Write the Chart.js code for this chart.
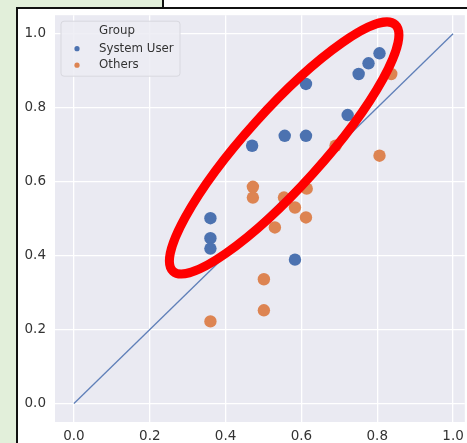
<!DOCTYPE html>
<html>
<head>
<meta charset="utf-8">
<script src="https://cdn.jsdelivr.net/npm/chart.js@4.4.1/dist/chart.umd.min.js"></script>
<style>
    html, body {
        margin: 0;
        padding: 0;
        width: 467px;
        height: 443px;
        overflow: hidden;
        background: #e2efda;
        font-family: "DejaVu Sans", sans-serif;
    }
    #topright {
        position: absolute;
        left: 162px;
        top: 0;
        width: 305px;
        height: 7px;
        background: #fff;
        border-left: 2px solid #111;
        box-sizing: border-box;
    }
    #frame {
        position: absolute;
        left: 16px;
        top: 7px;
        width: 451px;
        height: 436px;
        background: #fff;
        border-left: 2px solid #111;
        border-top: 2px solid #111;
        box-sizing: border-box;
        overflow: hidden;
    }
    #chart {
        position: absolute;
        left: 0;
        top: 0;
    }
</style>
</head>
<body>
<div id="topright"></div>
<div id="frame">
    <canvas id="chart" width="453" height="434"></canvas>
</div>
<script>
// data
const groups = ["System User", "Others"];
const groupTitle = "Group";

const userX = [0.806, 0.777, 0.751, 0.612, 0.470, 0.556, 0.612, 0.722, 0.360, 0.360, 0.360, 0.583];
const userY = [0.947, 0.920, 0.891, 0.864, 0.697, 0.724, 0.724, 0.780, 0.501, 0.447, 0.419, 0.389];

const otherX = [0.837, 0.806, 0.690, 0.472, 0.472, 0.554, 0.614, 0.583, 0.612, 0.530, 0.501, 0.501, 0.360];
const otherY = [0.891, 0.670, 0.697, 0.586, 0.557, 0.557, 0.581, 0.530, 0.503, 0.476, 0.336, 0.252, 0.222];

const diagX = [0, 1];
const diagY = [0, 1];

const tickValues = [0, 0.2, 0.4, 0.6, 0.8, 1.0];

const colors = ["#4c72b0", "#dd8452"];

function toPoints(xs, ys) {
    return xs.map((x, i) => ({ x: x, y: ys[i] }));
}

// no extra room for the end labels, the plot is cropped anyway
function fixAxis(size) {
    return s => {
        if (s.isHorizontal()) s.height = size; else s.width = size;
        s.paddingTop = 0;
        s.paddingBottom = 0;
        s.paddingLeft = 0;
        s.paddingRight = 0;
    };
}

// gray axes background like seaborn darkgrid
const plotBackground = {
    id: "plotBackground",
    beforeDraw(chart) {
        const { ctx, chartArea } = chart;
        ctx.save();
        ctx.fillStyle = "#eaeaf2";
        ctx.fillRect(chartArea.left, chartArea.top, chartArea.right - chartArea.left, chartArea.bottom - chartArea.top);
        ctx.restore();
    }
};

// legend box with title, drawn in the upper left corner
const groupLegend = {
    id: "groupLegend",
    afterDatasetsDraw(chart) {
        const { ctx, chartArea } = chart;
        const left = chartArea.left + 6;
        const top = chartArea.top + 6;
        const w = 119, h = 55;
        ctx.save();
        ctx.beginPath();
        ctx.roundRect(left, top, w, h, 3);
        ctx.fillStyle = "rgba(236,236,243,0.85)";
        ctx.fill();
        ctx.strokeStyle = "#d8d8df";
        ctx.lineWidth = 1;
        ctx.stroke();

        ctx.font = "11.8px 'DejaVu Sans'";
        ctx.fillStyle = "#333";
        ctx.textBaseline = "middle";
        ctx.textAlign = "center";
        ctx.fillText(groupTitle, left + 56, top + 10);

        ctx.textAlign = "left";
        groups.forEach((g, i) => {
            const yy = top + 27.5 + i * 16.5;
            ctx.beginPath();
            ctx.arc(left + 16, yy, 2.6, 0, Math.PI * 2);
            ctx.fillStyle = colors[i];
            ctx.fill();
            ctx.fillStyle = "#333";
            ctx.fillText(g, left + 38, yy);
        });
        ctx.restore();
    }
};

// red hand-drawn ellipse around the user group
const highlight = {
    id: "highlight",
    afterDraw(chart) {
        const { ctx } = chart;
        const cx = chart.scales.x.getPixelForValue(0.5545);
        const cy = chart.scales.y.getPixelForValue(0.691);
        ctx.save();
        ctx.beginPath();
        ctx.ellipse(cx, cy, 166, 38.5, -48 * Math.PI / 180, 0, Math.PI * 2);
        ctx.strokeStyle = "#ff0000";
        ctx.lineWidth = 9;
        ctx.stroke();
        ctx.restore();
    }
};

const tickFont = { family: "DejaVu Sans", size: 13.5 };

new Chart(document.getElementById("chart").getContext("2d"), {
    data: {
        datasets: [
            {
                type: "line",
                data: toPoints(diagX, diagY),
                borderColor: "#5f7fb8",
                borderWidth: 1.3,
                pointRadius: 0,
                fill: false,
                order: 0
            },
            {
                type: "scatter",
                label: groups[0],
                data: toPoints(userX, userY),
                backgroundColor: colors[0],
                borderColor: colors[0],
                borderWidth: 0,
                pointRadius: 6.2,
                order: 2
            },
            {
                type: "scatter",
                label: groups[1],
                data: toPoints(otherX, otherY),
                backgroundColor: colors[1],
                borderColor: colors[1],
                borderWidth: 0,
                pointRadius: 6.2,
                order: 1
            }
        ]
    },
    options: {
        responsive: false,
        animation: false,
        devicePixelRatio: 1,
        layout: { padding: { top: 5, right: 0, bottom: 0, left: 0 } },
        plugins: {
            legend: { display: false },
            tooltip: { enabled: false }
        },
        scales: {
            x: {
                type: "linear",
                min: -0.05,
                max: 1.031,
                afterBuildTicks: s => { s.ticks = tickValues.map(v => ({ value: v })); },
                afterFit: fixAxis(21),
                grid: { color: "#ffffff", lineWidth: 1.3, drawTicks: false },
                border: { display: false },
                ticks: {
                    padding: 6,
                    color: "#333",
                    font: tickFont,
                    maxRotation: 0,
                    callback: v => v.toFixed(1)
                }
            },
            y: {
                type: "linear",
                min: -0.05,
                max: 1.05,
                afterBuildTicks: s => { s.ticks = tickValues.map(v => ({ value: v })); },
                afterFit: fixAxis(37),
                grid: { color: "#ffffff", lineWidth: 1.3, drawTicks: false },
                border: { display: false },
                ticks: {
                    padding: 9,
                    color: "#333",
                    font: tickFont,
                    callback: v => v.toFixed(1)
                }
            }
        }
    },
    plugins: [plotBackground, groupLegend, highlight]
});
</script>
</body>
</html>
